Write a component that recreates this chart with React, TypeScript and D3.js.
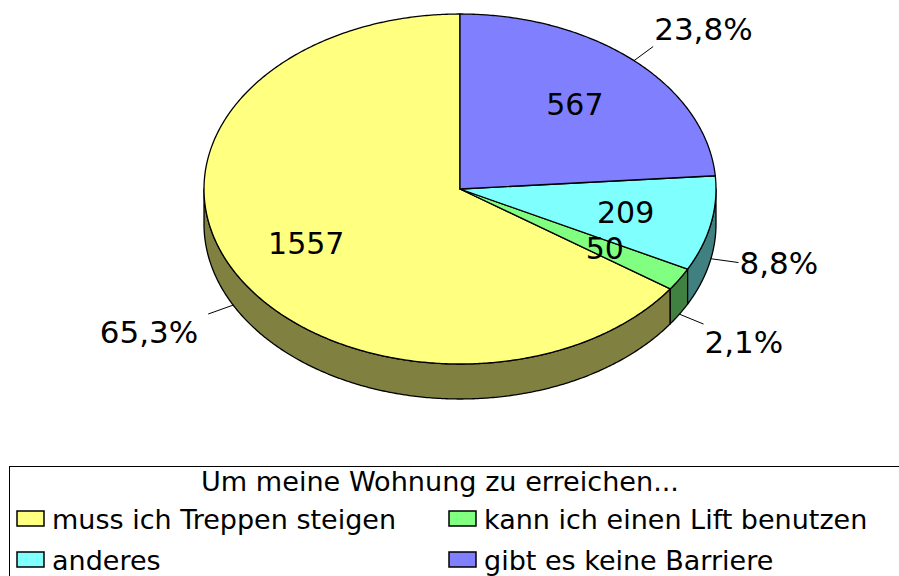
import React from "react";
import * as d3 from "d3";

const categories = [
  "muss ich Treppen steigen",
  "kann ich einen Lift benutzen",
  "anderes",
  "gibt es keine Barriere",
];
const values = [1557, 50, 209, 567];
const topColors = ["#FFFF80", "#80FF80", "#80FFFF", "#8080FF"];
const sideColors = ["#808040", "#408040", "#408080", "#404080"];
const legendTitle = "Um meine Wohnung zu erreichen...";

const W = 899;
const H = 576;
const cx = 460;
const cy = 189;
const rx = 256;
const ry = 175;
const depth = 35;
const FONT = "'DejaVu Sans', Verdana, sans-serif";

const pt = (a: number, r = 1, dz = 0): [number, number] => [
  cx + rx * r * Math.sin(a),
  cy - ry * r * Math.cos(a) + dz,
];

function arcPoints(a0: number, a1: number, dz = 0): [number, number][] {
  const n = Math.max(2, Math.ceil((Math.abs(a1 - a0) * 180) / Math.PI) * 2);
  return d3.range(n + 1).map((i) => pt(a0 + ((a1 - a0) * i) / n, 1, dz));
}

export default function App() {
  const total = d3.sum(values);
  const pie = d3
    .pie<number>()
    .sort(null)
    .startAngle(0)
    .endAngle(-2 * Math.PI);
  const arcs = pie(values).map((d, i) => {
    let lo = Math.min(d.startAngle, d.endAngle);
    let hi = Math.max(d.startAngle, d.endAngle);
    while (lo < 0) {
      lo += 2 * Math.PI;
      hi += 2 * Math.PI;
    }
    return { i, lo, hi, value: d.value };
  });
  const line = d3.line();

  const sides: { i: number; d: string }[] = [];
  arcs.forEach((a) => {
    [0, 2 * Math.PI, -2 * Math.PI].forEach((off) => {
      const s = Math.max(a.lo, Math.PI / 2 + off);
      const e = Math.min(a.hi, (3 * Math.PI) / 2 + off);
      if (e > s) {
        const top = arcPoints(s, e, 0);
        const bot = arcPoints(e, s, depth);
        sides.push({ i: a.i, d: (line([...top, ...bot]) as string) + "Z" });
      }
    });
  });

  const tops = arcs.map((a) => {
    const pts: [number, number][] = [[cx, cy], ...arcPoints(a.lo, a.hi, 0)];
    return { i: a.i, d: (line(pts) as string) + "Z" };
  });

  const labels = arcs.map((a) => {
    const mid = (a.lo + a.hi) / 2;
    const c = Math.cos(mid);
    const dz = c < 0 ? depth : 0;
    const inner = pt(mid, 0.66, 0);
    const start = pt(mid, 1, dz);
    const end = pt(mid, 1.11, dz);
    const right = Math.sin(mid) >= 0;
    const k = Math.min(1, Math.max(0, (Math.abs(c) - 0.2) / 0.25));
    const off = -Math.sign(c) * 18 * k;
    const pct = ((a.value / total) * 100).toFixed(1).replace(".", ",") + "%";
    return { ...a, inner, start, end, right, off, pct };
  });

  const legendItems = categories.map((c, i) => ({
    c,
    i,
    x: i % 2 === 0 ? 17 : 449,
    y: i < 2 ? 511 : 552,
  }));

  return (
    <svg
      width={W}
      height={H}
      style={{ position: "absolute", left: 0, top: 0, background: "#fff" }}
      fontFamily={FONT}
    >
      <rect x={0} y={0} width={W} height={H} fill="#fff" />
      {sides.map((s, k) => (
        <path
          key={"s" + k}
          d={s.d}
          fill={sideColors[s.i]}
          stroke="#000"
          strokeWidth={1.3}
          strokeLinejoin="round"
        />
      ))}
      {tops.map((t) => (
        <path
          key={"t" + t.i}
          d={t.d}
          fill={topColors[t.i]}
          stroke="#000"
          strokeWidth={1.3}
          strokeLinejoin="round"
        />
      ))}
      {labels.map((l) => (
        <g key={"l" + l.i}>
          <text
            x={l.inner[0] - (l.i === 0 ? 4 : 0)}
            y={l.inner[1] + 11}
            textAnchor="middle"
            fontSize={30}
            fill="#000"
          >
            {l.value}
          </text>
          <line
            x1={l.start[0]}
            y1={l.start[1]}
            x2={l.end[0]}
            y2={l.end[1]}
            stroke="#000"
            strokeWidth={1}
          />
          <text
            x={l.right ? l.end[0] + 1 : l.end[0] - 10}
            y={l.end[1] + l.off + 11}
            textAnchor={l.right ? "start" : "end"}
            fontSize={31}
            fill="#000"
          >
            {l.pct}
          </text>
        </g>
      ))}
      <rect
        x={9.5}
        y={466.5}
        width={960}
        height={140}
        fill="none"
        stroke="#000"
        strokeWidth={1}
      />
      <text x={440} y={491} textAnchor="middle" fontSize={27.1} fill="#000">
        {legendTitle}
      </text>
      {legendItems.map((it) => (
        <g key={"g" + it.i}>
          <rect
            x={it.x}
            y={it.y}
            width={27}
            height={15}
            fill={topColors[it.i]}
            stroke="#000"
            strokeWidth={1.5}
          />
          <text x={it.x + 35} y={it.y + 18} fontSize={27} fill="#000">
            {it.c}
          </text>
        </g>
      ))}
    </svg>
  );
}
